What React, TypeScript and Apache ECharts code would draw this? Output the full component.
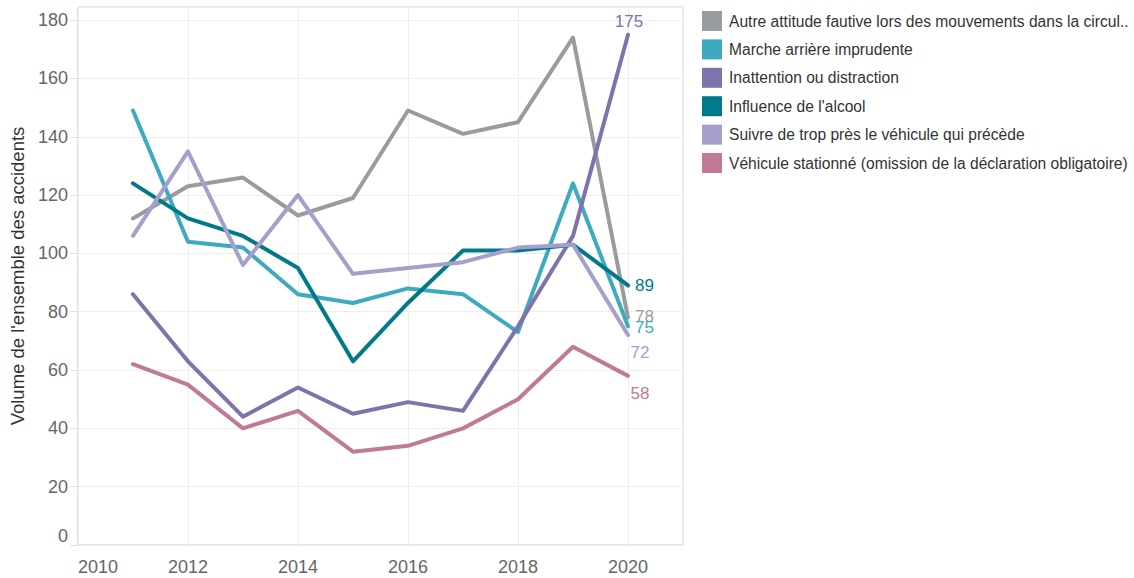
import React, { useEffect, useRef } from 'react';
import * as echarts from 'echarts';

const years = [2011, 2012, 2013, 2014, 2015, 2016, 2017, 2018, 2019, 2020];
const seriesNames = [
  'Autre attitude fautive lors des mouvements dans la circulation',
  'Marche arrière imprudente',
  'Inattention ou distraction',
  "Influence de l'alcool",
  'Suivre de trop près le véhicule qui précède',
  'Véhicule stationné (omission de la déclaration obligatoire)',
];
const autre = [112, 123, 126, 113, 119, 149, 141, 145, 174, 78];
const marche = [149, 104, 102, 86, 83, 88, 86, 73, 124, 75];
const inattention = [86, 63, 44, 54, 45, 49, 46, 75, 106, 175];
const alcool = [124, 112, 106, 95, 63, 83, 101, 101, 103, 89];
const suivre = [106, 135, 96, 120, 93, 95, 97, 102, 103, 72];
const stationne = [62, 55, 40, 46, 32, 34, 40, 50, 68, 58];
const yTicks = [0, 20, 40, 60, 80, 100, 120, 140, 160, 180];
const xTicks = [2010, 2012, 2014, 2016, 2018, 2020];

const values = [autre, marche, inattention, alcool, suivre, stationne];
const colors = ['#979d9e', '#3eaabd', '#7e73ab', '#007a8a', '#a59fcb', '#c07997'];
const endLabels: any[] = [
  { position: 'right', distance: 7, offset: [0, -1] },
  { position: 'right', distance: 7, offset: [0, 1] },
  { position: 'top', distance: 5, offset: [1, 0] },
  { position: 'right', distance: 7, offset: [0, 0] },
  { position: 'bottom', distance: 9, offset: [12, 0] },
  { position: 'bottom', distance: 9, offset: [12, 0] },
];

export default function App() {
  const ref = useRef<HTMLDivElement>(null);
  useEffect(() => {
    if (!ref.current) return;
    const chart = echarts.init(ref.current, null, { renderer: 'svg' });
    const font = 'Liberation Sans, Arial, sans-serif';
    const series = values.map((vals, si) => ({
      type: 'line',
      name: seriesNames[si],
      symbol: 'circle',
      symbolSize: 0,
      showSymbol: true,
      color: colors[si],
      lineStyle: { width: 4, color: colors[si], cap: 'round', join: 'round' },
      data: years.map((y, i) =>
        i === years.length - 1
          ? {
              value: [y, vals[i]],
              label: {
                show: true,
                formatter: String(vals[i]),
                color: colors[si],
                fontSize: 17,
                fontFamily: font,
                ...endLabels[si],
              },
            }
          : [y, vals[i]]
      ),
    }));
    chart.setOption({
      animation: false,
      backgroundColor: '#ffffff',
      textStyle: { fontFamily: font },
      grid: {
        left: 76,
        right: 451,
        top: 7,
        bottom: 33,
        show: true,
        borderColor: '#cccccc',
        borderWidth: 1,
        backgroundColor: 'transparent',
      },
      legend: {
        orient: 'vertical',
        left: 702,
        top: 11,
        padding: 0,
        icon: 'rect',
        itemWidth: 20,
        itemHeight: 20,
        itemGap: 8.4,
        data: seriesNames,
        formatter: (name: string) => (name.length > 60 ? name.slice(0, 57) + '..' : name),
        textStyle: { fontSize: 15.6, color: '#333333', fontFamily: font, padding: [0, 0, 0, 2] },
        selectedMode: false,
      },
      xAxis: {
        type: 'value',
        min: 2010,
        max: 2021,
        interval: 2,
        axisLine: { show: false },
        axisTick: { show: false },
        splitLine: { show: true, lineStyle: { color: '#eeeeee', width: 1 } },
        axisLabel: {
          color: '#666666',
          fontSize: 18,
          margin: 13,
          showMaxLabel: false,
          alignMinLabel: 'left',
          formatter: (v: number) => (xTicks.includes(v) ? String(v) : ''),
        },
      },
      yAxis: {
        type: 'value',
        min: 0,
        max: 184.5,
        interval: 20,
        name: "Volume de l'ensemble des accidents",
        nameLocation: 'middle',
        nameGap: 50,
        nameTextStyle: { color: '#333333', fontSize: 18.5, fontFamily: font },
        axisLine: { show: false },
        axisTick: { show: true, length: 8, lineStyle: { color: '#e0e0e0' } },
        splitLine: { show: true, lineStyle: { color: '#eeeeee', width: 1 } },
        axisLabel: {
          color: '#666666',
          fontSize: 18,
          margin: 10,
          showMaxLabel: false,
          verticalAlignMinLabel: 'bottom',
          formatter: (v: number) => (yTicks.includes(v) ? String(v) : ''),
        },
      },
      series,
    });
    return () => chart.dispose();
  }, []);
  return (
    <div
      ref={ref}
      style={{ position: 'fixed', left: 0, top: 0, width: 1134, height: 578 }}
    />
  );
}
